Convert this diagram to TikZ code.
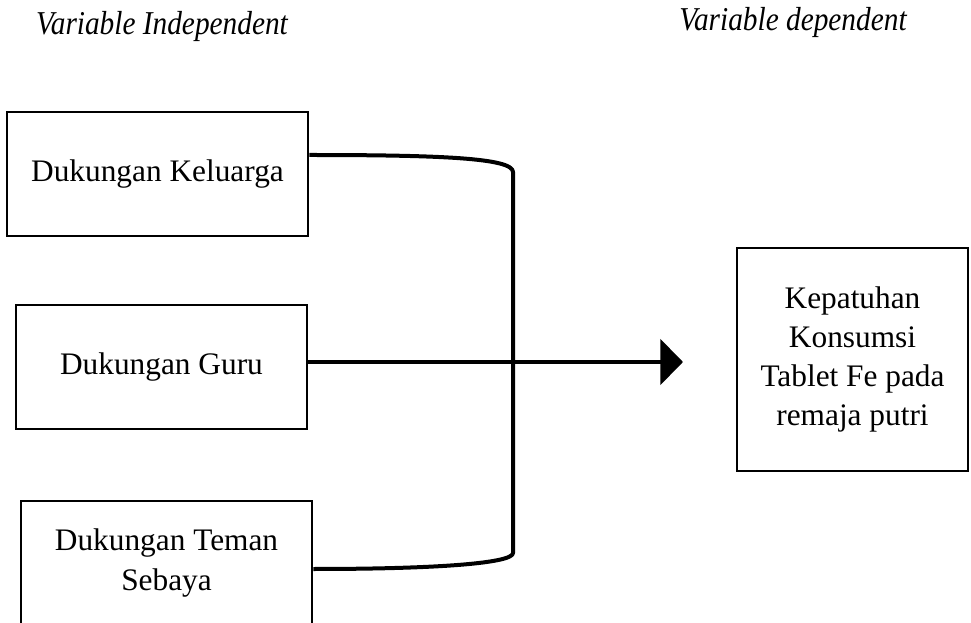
\documentclass[tikz,border=0pt]{standalone}
\usepackage{fontspec}
\setmainfont{Liberation Serif}
\usetikzlibrary{arrows.meta,calc}
\begin{document}
\begin{tikzpicture}[x=0.75pt,y=-0.75pt,
  box/.style={draw=black,line width=2pt,inner sep=0pt,align=center,
    font=\fontsize{23.5}{30}\selectfont},
  title/.style={inner sep=0pt,font=\fontsize{25}{28}\selectfont\itshape},
  conn/.style={line width=3pt,line join=round}]
\useasboundingbox (0,0) rectangle (971,623);
\node[title] (t1) at (162,26) {\scalebox{0.88}[1]{Variable Independent}};
\node[title] (t2) at (793,22) {\scalebox{0.88}[1]{Variable dependent}};
\node[box,minimum width=0.75*301pt,minimum height=0.75*124pt] (b1) at (157.5,174) {Dukungan Keluarga};
\node[box,minimum width=0.75*291pt,minimum height=0.75*124pt] (b2) at (161.5,367) {Dukungan Guru};
\node[box,minimum width=0.75*291pt,minimum height=0.75*124pt] (b3) at (166.5,563) {Dukungan Teman\\Sebaya};
\node[box,minimum width=0.75*231pt,minimum height=0.75*223pt,font=\fontsize{23.5}{29.3}\selectfont] (dv) at (852.5,359.5) {Kepatuhan\\Konsumsi\\Tablet Fe pada\\remaja putri};
\coordinate (jt) at (513,172);
\coordinate (jb) at (513,553);
\coordinate (tip) at (683,362);
\draw[conn] ($(b1.east)+(0,-19)$) .. controls (440,155) and (513,158) .. (jt) -- (jb)
  .. controls (513,563) and (440,569) .. ($(b3.east)+(0,6)$);
\draw[conn,-{Triangle[length=17pt,width=34pt]}] ($(b2.east)+(0,-5)$) -- (tip);
\end{tikzpicture}
\end{document}
